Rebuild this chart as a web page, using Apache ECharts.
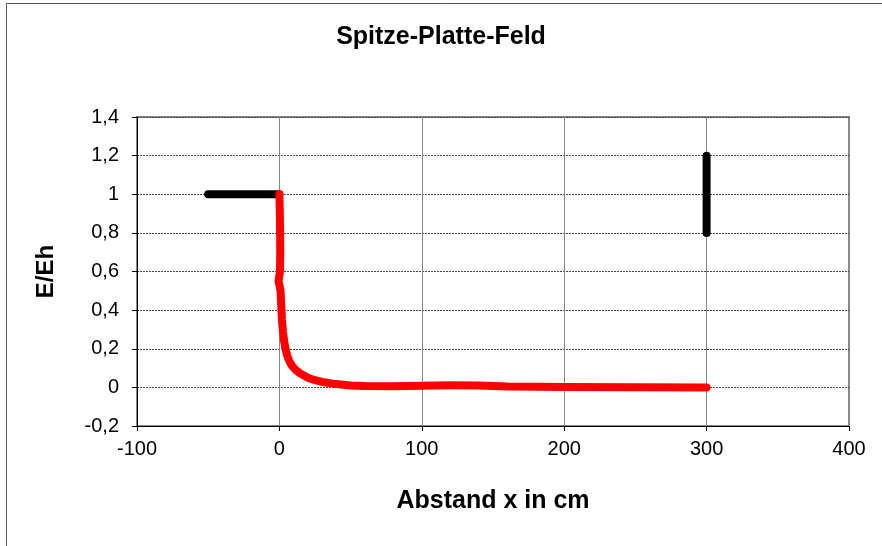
<!DOCTYPE html>
<html><head><meta charset="utf-8">
<script src="https://cdn.jsdelivr.net/npm/echarts@6/dist/echarts.min.js"></script>
<style>html,body{margin:0;padding:0;background:#fff}#c{width:882px;height:546px}</style>
</head><body><div id="c"></div>
<script>
const titleText = 'Spitze-Platte-Feld';
const xAxisName = 'Abstand x in cm';
const yAxisName = 'E/Eh';
const xTicks = { min: -100, max: 400, interval: 100 };
const yTicks = { min: -0.2, max: 1.4, interval: 0.2 };

// Feldverlauf (rot)
const fieldX = [0, 0.3, 0.5, 0.6, 0.4, -0.6, 0.8, 1.3, 1.8, 2.5, 3.3, 4.3, 5.5, 7, 9, 11.5, 15, 20, 25, 30, 40, 50, 60, 80, 100, 120, 140, 160, 200, 250, 300];
const fieldY = [1.0, 0.9, 0.8, 0.7, 0.6, 0.55, 0.5, 0.42, 0.35, 0.29, 0.24, 0.2, 0.165, 0.135, 0.11, 0.09, 0.07, 0.05, 0.037, 0.028, 0.017, 0.01, 0.007, 0.006, 0.009, 0.011, 0.01, 0.004, 0.002, 0.001, 0.0];
// Spitze (schwarz, waagerecht)
const tipX = [-50, 0];
const tipY = [1, 1];
// Platte (schwarz, senkrecht)
const plateX = [300, 300];
const plateY = [0.8, 1.2];

const zip = (a, b) => a.map((v, i) => [v, b[i]]);
const font = '"Liberation Sans", Arial, sans-serif';
const fmt = v => String(Math.round(v * 10) / 10).replace('.', ',');

const chart = echarts.init(document.getElementById('c'));
chart.setOption({
  animation: false,
  backgroundColor: '#fff',
  title: { text: titleText, left: 'center', top: 20, textStyle: { fontFamily: font, fontSize: 25, fontWeight: 'bold', color: '#000' } },
  graphic: [{ type: 'rect', shape: { x: 6.5, y: 3.5, width: 900, height: 600 }, style: { fill: null, stroke: '#555', lineWidth: 1 }, silent: true, z: -1 }],
  grid: { left: 137, right: 33, top: 117, bottom: 120, show: true, borderColor: '#888', borderWidth: 2, backgroundColor: 'transparent' },
  xAxis: {
    type: 'value', min: xTicks.min, max: xTicks.max, interval: xTicks.interval,
    name: xAxisName, nameLocation: 'middle', nameGap: 63,
    nameTextStyle: { fontFamily: font, fontSize: 25, fontWeight: 'bold', color: '#000' },
    axisLine: { onZero: false, lineStyle: { color: '#000', width: 1 } },
    axisTick: { show: true, length: 5, lineStyle: { color: '#000' } },
    axisLabel: { fontFamily: font, fontSize: 20, color: '#000', margin: 13, formatter: fmt },
    splitLine: { show: true, lineStyle: { color: '#888', width: 1, type: 'solid' } }
  },
  yAxis: {
    type: 'value', min: yTicks.min, max: yTicks.max, interval: yTicks.interval,
    name: yAxisName, nameLocation: 'middle', nameGap: 79, nameRotate: 90,
    nameTextStyle: { fontFamily: font, fontSize: 24, fontWeight: 'bold', color: '#000' },
    axisLine: { onZero: false, lineStyle: { color: '#000', width: 1 } },
    axisTick: { show: true, length: 5, lineStyle: { color: '#000' } },
    axisLabel: { fontFamily: font, fontSize: 20, color: '#000', margin: 18, formatter: fmt },
    splitLine: { show: true, lineStyle: { color: '#444', width: 1, type: [2, 1] } }
  },
  series: [
    { type: 'line', data: zip(tipX, tipY), showSymbol: false, lineStyle: { color: '#000', width: 8, cap: 'round', join: 'round' }, z: 3 },
    { type: 'line', data: zip(plateX, plateY), showSymbol: false, lineStyle: { color: '#000', width: 8, cap: 'round', join: 'round' }, z: 3 },
    { type: 'line', data: zip(fieldX, fieldY), showSymbol: false, smooth: false, lineStyle: { color: '#ff0000', width: 8, cap: 'round', join: 'round' }, z: 4 }
  ]
});
</script></body></html>
